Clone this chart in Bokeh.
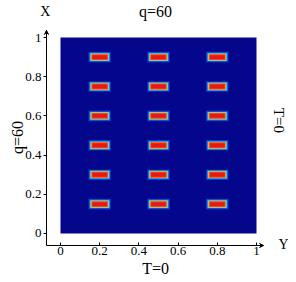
import math
from bokeh.plotting import figure
from bokeh.models import Range1d, Label, Arrow, VeeHead, FixedTicker
from bokeh.embed import file_html
from bokeh.resources import INLINE

# data
col_centers = [0.2, 0.5, 0.8]
row_centers = [0.9, 0.75, 0.6, 0.45, 0.3, 0.15]
tick_values = [0, 0.2, 0.4, 0.6, 0.8, 1]
tick_labels = ["0", "0.2", "0.4", "0.6", "0.8", "1"]
title_text = "q=60"
time_text = "T=0"
x_name = "X"
y_name = "Y"

FONT = "Liberation Serif"
ax_x0, ax_x1 = -0.0714, 1.036
ax_y0, ax_y1 = -0.0612, 1.036

p = figure(width=288, height=276,
           x_range=Range1d(-0.3061, 1.1633), y_range=Range1d(-0.2194, 1.1888),
           output_backend="svg", toolbar_location=None,
           min_border=0, min_border_left=0, min_border_right=0,
           min_border_top=0, min_border_bottom=0)
p.outline_line_color = None
p.grid.visible = False
p.background_fill_color = "white"
p.border_fill_color = "white"

p.quad(left=[0], right=[1], bottom=[0], top=[1], fill_color="#04068c", line_color=None)

xs = [c for c in col_centers for r in row_centers]
ys = [r for c in col_centers for r in row_centers]
layers = [
    (0.116, 0.054, "#0c2cb8"),
    (0.106, 0.046, "#1e6ee0"),
    (0.098, 0.040, "#40c0e8"),
    (0.090, 0.034, "#d8d850"),
    (0.084, 0.030, "#f04818"),
    (0.074, 0.020, "#e81818"),
]
for w, h, c in layers:
    p.rect(x=xs, y=ys, width=w, height=h, fill_color=c, line_color=None)

for ax in (p.xaxis, p.yaxis):
    ax.ticker = FixedTicker(ticks=tick_values)
    ax.major_label_overrides = {v: s for v, s in zip(tick_values, tick_labels)}
    ax.minor_tick_line_color = None
    ax.major_label_text_font = FONT
    ax.major_label_text_font_size = "13px"
    ax.major_label_text_color = "black"
    ax.axis_line_color = "black"
    ax.major_tick_line_color = "black"

p.xaxis.fixed_location = ax_y0
p.xaxis.bounds = (ax_x0, ax_x1)
p.xaxis.major_tick_in = 3
p.xaxis.major_tick_out = 0
p.xaxis.major_label_standoff = 2
p.yaxis.fixed_location = ax_x0
p.yaxis.bounds = (ax_y0, ax_y1)
p.yaxis.major_tick_in = 0
p.yaxis.major_tick_out = 3
p.yaxis.major_label_standoff = 2


def add_text(x, y, text, size, angle=0.0):
    p.add_layout(Label(x=x, y=y, text=text,
                       text_font=FONT, text_font_size=size, text_color="black",
                       text_align="center", text_baseline="middle", angle=angle))


add_text(0.485, 1.133, title_text, "16px")
add_text(0.485, -0.179, time_text, "16px")
add_text(-0.218, 0.49, title_text, "16px", math.pi / 2)
add_text(1.115, 0.577, time_text, "15px", -math.pi / 2)
add_text(-0.077, 1.133, x_name, "14px")
add_text(1.138, -0.056, y_name, "14px")

p.add_layout(Arrow(end=VeeHead(size=4, line_width=1), x_start=ax_x0, y_start=ax_y1 - 0.03,
                   x_end=ax_x0, y_end=ax_y1, line_width=1))
p.add_layout(Arrow(end=VeeHead(size=4, line_width=1), x_start=ax_x1 - 0.03, y_start=ax_y0,
                   x_end=ax_x1, y_end=ax_y0, line_width=1))

open("out.html", "w").write(file_html(p, INLINE))
